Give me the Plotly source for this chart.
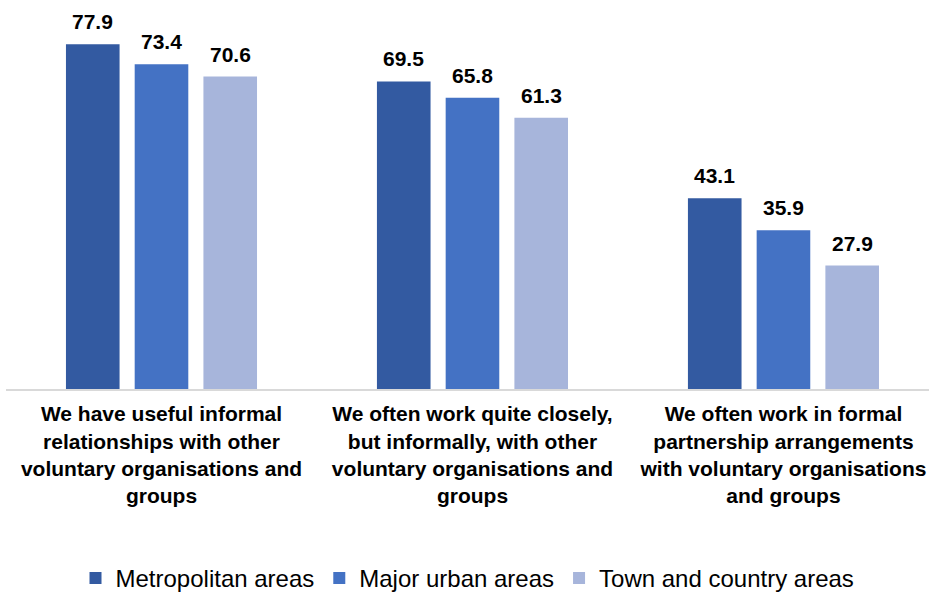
import plotly.graph_objects as go

categories = [
    "We have useful informal<br>relationships with other<br>voluntary organisations and<br>groups",
    "We often work quite closely,<br>but informally, with other<br>voluntary organisations and<br>groups",
    "We often work in formal<br>partnership arrangements<br>with voluntary organisations<br>and groups",
]
series_names = ["Metropolitan areas", "Major urban areas", "Town and country areas"]
metropolitan = [77.9, 69.5, 43.1]
major_urban = [73.4, 65.8, 35.9]
town_country = [70.6, 61.3, 27.9]
colors = ["#335AA1", "#4472C4", "#A7B5DB"]

BARGAP = 0.337
BARGROUPGAP = 0.22
slot = (1 - BARGAP) / 3  # width reserved for each bar within a category

fig = go.Figure()
annotations = []
for k, (name, vals, col) in enumerate(zip(series_names, [metropolitan, major_urban, town_country], colors)):
    fig.add_trace(go.Bar(
        x=[0, 1, 2], y=vals, name=name,
        marker=dict(color=col, line=dict(width=0)),
        hoverinfo="name+y",
    ))
    for i, v in enumerate(vals):
        annotations.append(dict(
            x=i + (k - 1) * slot, y=v, xref="x", yref="y",
            text=f"<b>{v:.1f}</b>", showarrow=False,
            yanchor="bottom", yshift=9,
            font=dict(family="Liberation Sans, Arial", size=21, color="#000000"),
        ))

fig.update_layout(
    width=929, height=592,
    margin=dict(l=6, r=0, t=35, b=203, autoexpand=False),
    paper_bgcolor="white", plot_bgcolor="white",
    barmode="group", bargap=BARGAP, bargroupgap=BARGROUPGAP,
    font=dict(family="Liberation Sans, Arial", color="#000000"),
    annotations=annotations,
    showlegend=True,
    legend=dict(
        orientation="h", x=0.5, xanchor="center", y=-0.535, yanchor="middle",
        font=dict(size=24, color="#000000"), itemwidth=30, traceorder="normal",
        tracegroupgap=0,
    ),
    xaxis=dict(
        range=[-0.5, 2.468], tickmode="array", tickvals=[0, 1, 2],
        ticktext=[f"<b>{c}</b>" for c in categories],
        tickfont=dict(size=21, color="#000000"), automargin=False,
        ticklabelstandoff=5,
        showline=True, linecolor="#D9D9D9", linewidth=2,
        showgrid=False, zeroline=False, ticks="", fixedrange=True,
    ),
    yaxis=dict(range=[0, 80], visible=False, showgrid=False, zeroline=False,
               automargin=False),
)

fig.write_html("out.html")
